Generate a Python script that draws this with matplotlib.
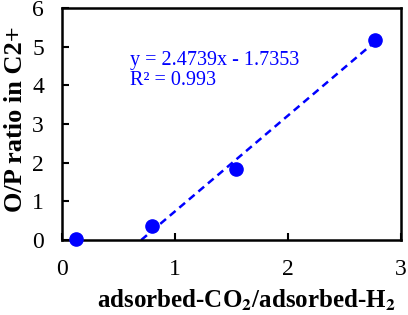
import matplotlib
matplotlib.use('Agg')
import matplotlib.pyplot as plt
import numpy as np

# data
ratio_x = [0.12, 0.80, 1.545, 2.775]
op_ratio = [0.03, 0.37, 1.83, 5.18]
slope = 2.4739
intercept = -1.7353
r2 = 0.993
x_ticks = [0, 1, 2, 3]
y_ticks = [0, 1, 2, 3, 4, 5, 6]

plt.rcParams['font.family'] = ['Liberation Serif', 'DejaVu Serif']
plt.rcParams['mathtext.fontset'] = 'stix'

fig = plt.figure(figsize=(4.08, 3.15), dpi=100)
ax = fig.add_axes([0.152, 0.238, 0.830, 0.737])

blue = '#0000ff'
ax.plot(ratio_x, op_ratio, 'o', color=blue, markersize=9.5, zorder=3,
        clip_on=False)

# trendline from x-intercept to the last point
x0 = -intercept / slope
xs = np.array([x0, max(ratio_x)])
ax.plot(xs, slope * xs + intercept, '--', color=blue, linewidth=1.8,
        dashes=(3, 2), zorder=2)

ax.text(0.20, 0.775, 'y = %.4fx - %.4f' % (slope, -intercept),
        transform=ax.transAxes, color=blue, fontsize=14.5, va='center')
ax.text(0.20, 0.688, 'R² = %.3f' % r2,
        transform=ax.transAxes, color=blue, fontsize=14.5, va='center')

ax.set_xlim(0, 3)
ax.set_ylim(0, 6)
ax.set_xticks(x_ticks)
ax.set_yticks(y_ticks)
ax.tick_params(direction='in', length=5, width=1.5, labelsize=17)
ax.tick_params(axis='x', pad=14)
ax.tick_params(axis='y', pad=13)
for s in ax.spines.values():
    s.set_linewidth(1.8)

ax.set_xlabel('adsorbed-CO$_\\mathbf{2}$/adsorbed-H$_\\mathbf{2}$',
              fontsize=18, fontweight='bold')
ax.set_ylabel('O/P ratio in C2+', fontsize=19, fontweight='bold')
ax.xaxis.set_label_coords(0.543, -0.207)
ax.yaxis.set_label_coords(-0.102, 0.519)

plt.savefig('out.png', dpi=100)
plt.close()
